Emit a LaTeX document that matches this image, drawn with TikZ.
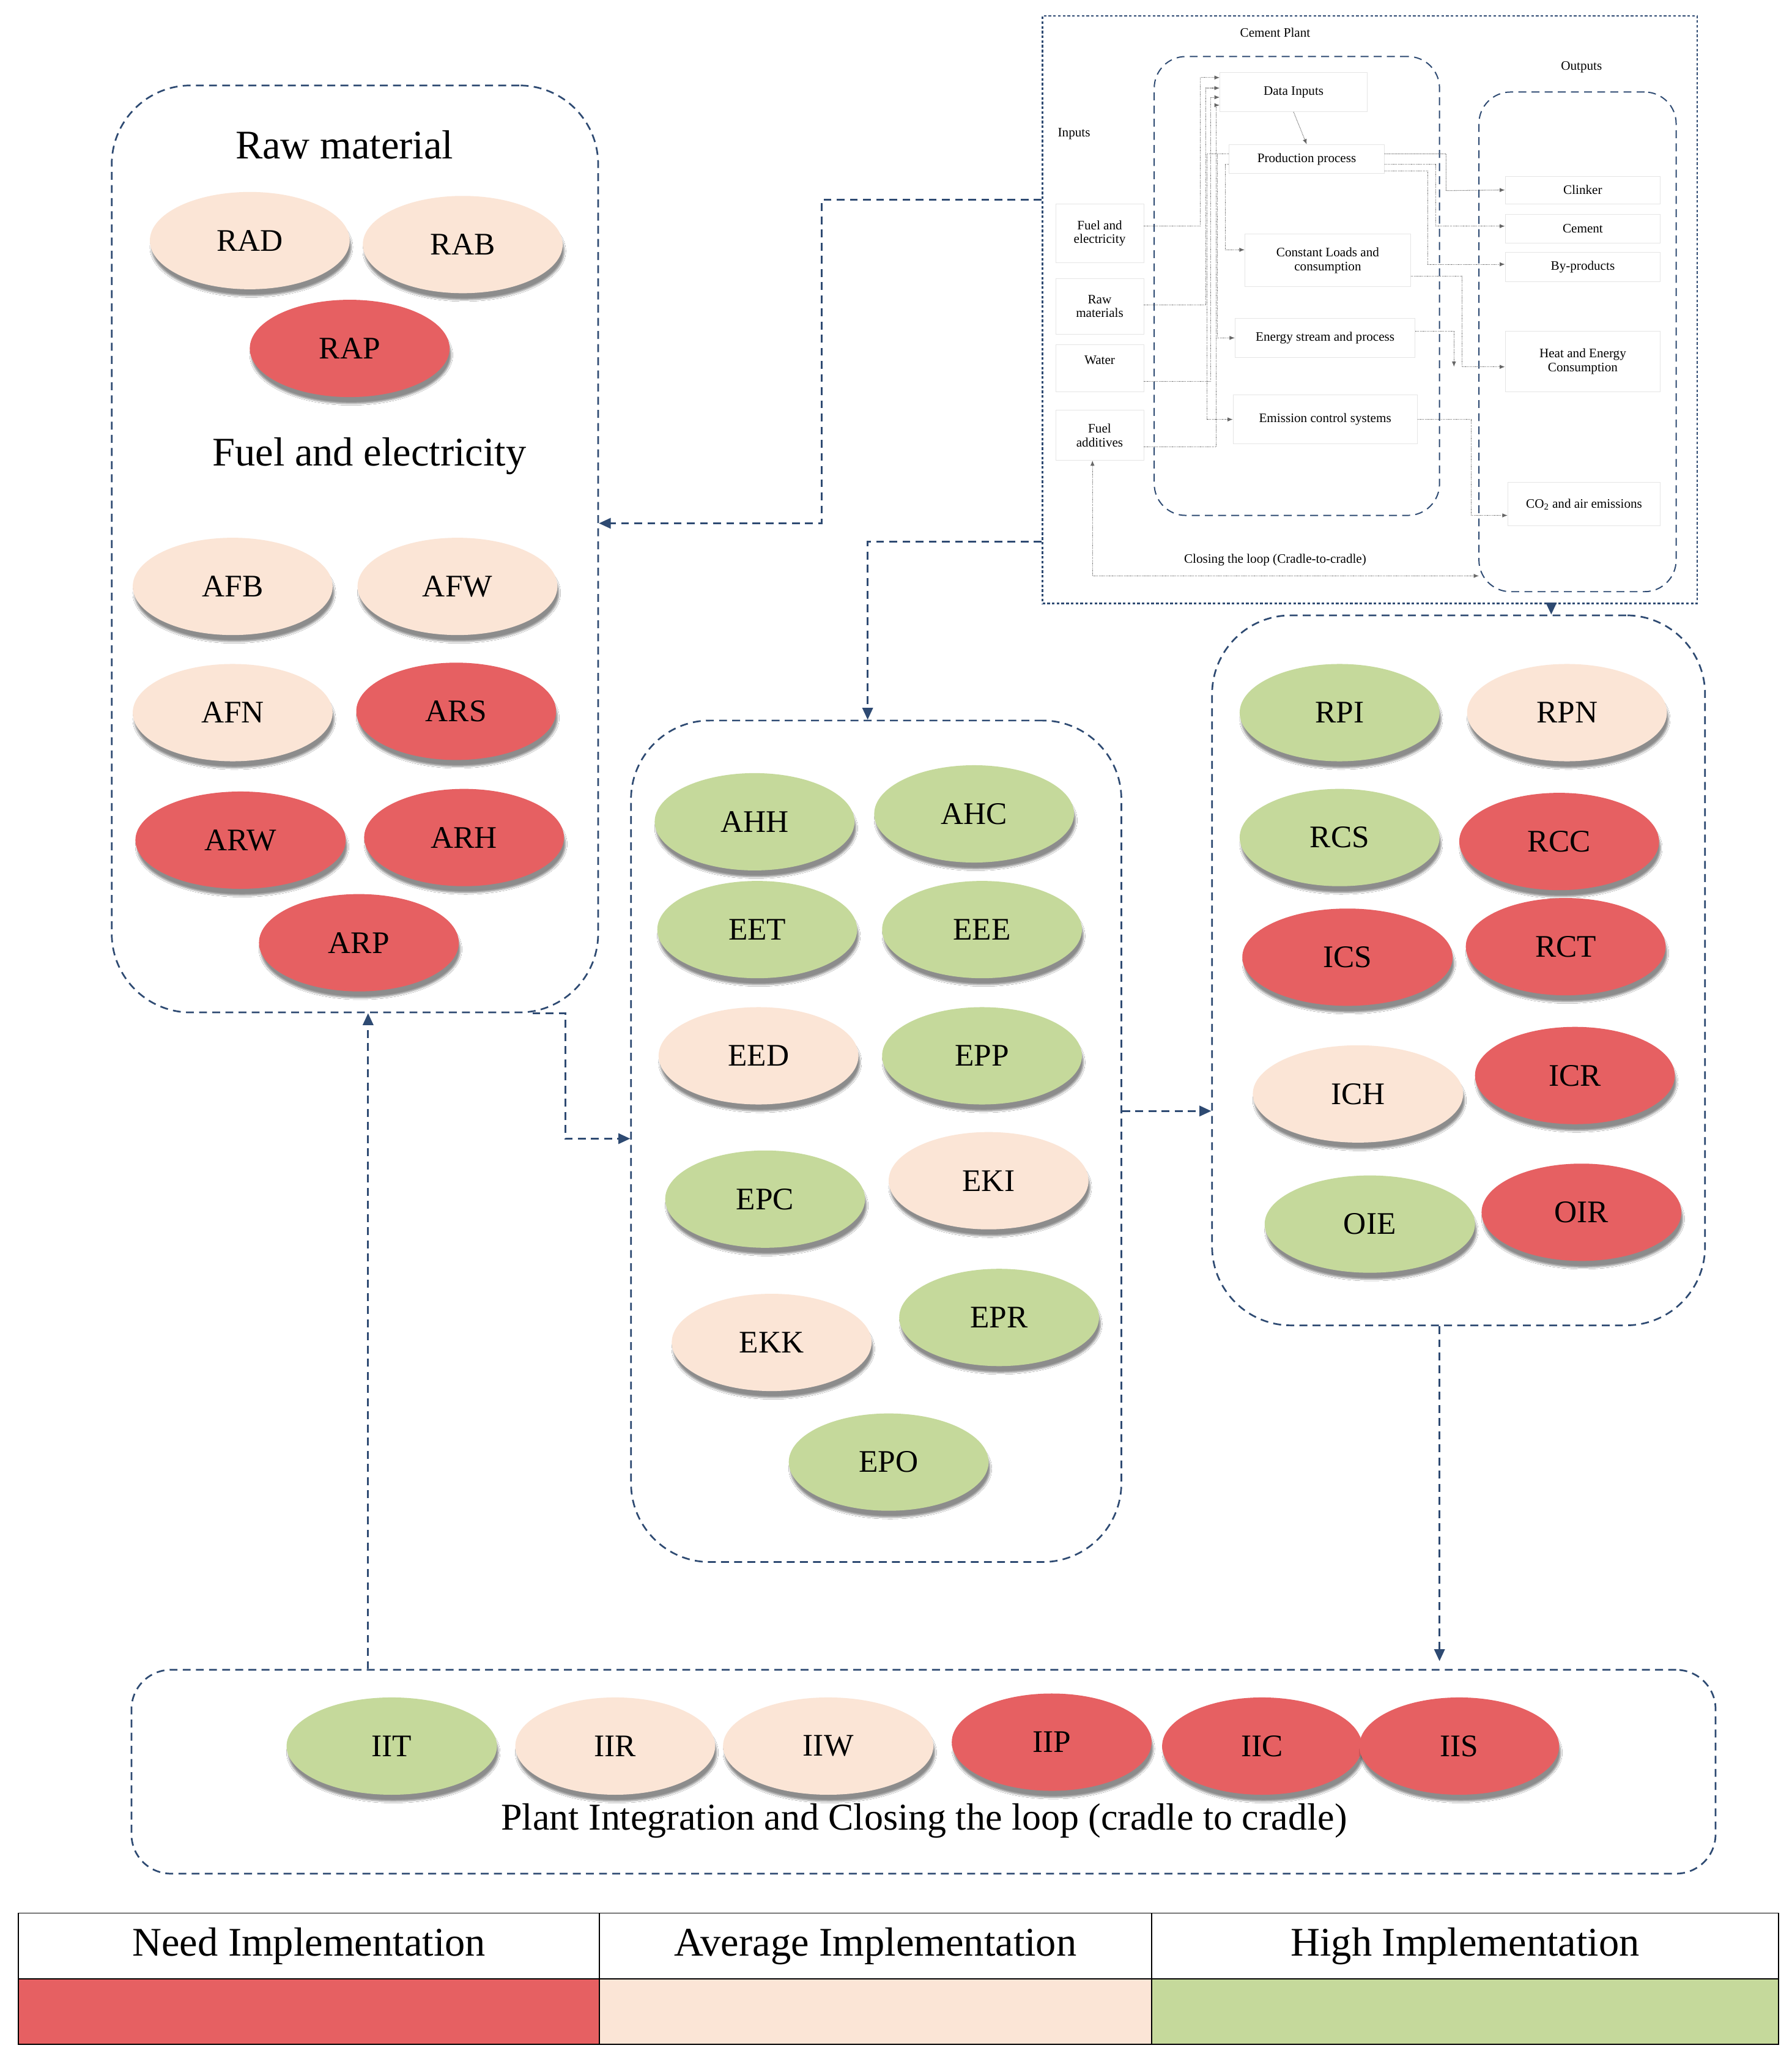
\documentclass[tikz,border=0pt]{standalone}
\usepackage{fontspec}
\setmainfont{Liberation Serif}
\usetikzlibrary{shapes.geometric,shadows.blur,arrows.meta}
\definecolor{needc}{HTML}{E66062}
\definecolor{avgc}{HTML}{FBE5D6}
\definecolor{highc}{HTML}{C5D99B}
\definecolor{dblue}{HTML}{2E4A72}
\tikzset{
 ell/.style={ellipse, minimum width=76mm, minimum height=37mm, inner sep=0pt,
   font=\fontsize{34}{36}\selectfont,
   blur shadow={shadow xshift=0.6mm, shadow yshift=-2.5mm, shadow blur steps=6, shadow opacity=45}},
 R/.style={ell, fill=needc}, A/.style={ell, fill=avgc}, H/.style={ell, fill=highc},
 grp/.style={draw=dblue, line width=1.8pt, dash pattern=on 3mm off 2mm, rounded corners=30mm},
 big/.style={draw=dblue, line width=1.8pt, dash pattern=on 3mm off 2mm, -{Triangle[length=4.5mm,width=4mm]}},
 ttl/.style={font=\fontsize{44}{48}\selectfont},
 sb/.style={draw=black!10, line width=0.6pt, font=\fontsize{14}{15}\selectfont, align=center, inner sep=0pt},
 sd/.style={draw=black!60, line width=0.7pt, dash pattern=on 0.8pt off 0.8pt, -{Latex[length=2mm,width=1.6mm]}},
 ig/.style={draw=dblue, line width=1.3pt, dash pattern=on 3mm off 2mm, rounded corners=12mm},
}
\begin{document}
\begin{tikzpicture}[x=0.5mm,y=-0.5mm]
\useasboundingbox (0,0) rectangle (1363,1566);
\fill[white] (0,0) rectangle (1363,1566);
% group boxes
\node[grp, minimum width=185mm, minimum height=352.5mm] (lbox) at (270,417.5) {};
\node[grp, minimum width=186.5mm, minimum height=320mm] (mbox) at (666.5,868) {};
\node[grp, minimum width=187.5mm, minimum height=270mm] (rbox) at (1109.5,738) {};
\node[grp, rounded corners=15mm, minimum width=602.5mm, minimum height=77.5mm] (bbox) at (702.5,1347.5) {};
% left
\node[ttl] (trm) at (262,110) {Raw material};
\node[A] (RAD) at (190,183) {RAD};
\node[A] (RAB) at (352,186) {RAB};
\node[R] (RAP) at (266,265) {RAP};
\node[ttl] (tfe) at (281,347) {Fuel and electricity};
\node[A] (AFB) at (177,446) {AFB};
\node[A] (AFW) at (348,446) {AFW};
\node[A] (AFN) at (177,542) {AFN};
\node[R] (ARS) at (347,541) {ARS};
\node[R, minimum width=80mm] (ARW) at (183,639) {ARW};
\node[R] (ARH) at (353,637) {ARH};
\node[R] (ARP) at (273,717) {ARP};
% middle
\node[H] (AHH) at (574,625) {AHH};
\node[H] (AHC) at (741,619) {AHC};
\node[H] (EET) at (576,707) {EET};
\node[H] (EEE) at (747,707) {EEE};
\node[A] (EED) at (577,803) {EED};
\node[H] (EPP) at (747,803) {EPP};
\node[H] (EPC) at (582,912) {EPC};
\node[A] (EKI) at (752,898) {EKI};
\node[A] (EKK) at (587,1021) {EKK};
\node[H] (EPR) at (760,1002) {EPR};
\node[H] (EPO) at (676,1112) {EPO};
% right
\node[H] (RPI) at (1019,542) {RPI};
\node[A] (RPN) at (1192,542) {RPN};
\node[H] (RCS) at (1019,637) {RCS};
\node[R] (RCC) at (1186,640) {RCC};
\node[R, minimum width=80mm] (ICS) at (1025,728) {ICS};
\node[R] (RCT) at (1191,720) {RCT};
\node[A, minimum width=80mm] (ICH) at (1033,832) {ICH};
\node[R] (ICR) at (1198,818) {ICR};
\node[H, minimum width=80mm] (OIE) at (1042,931) {OIE};
\node[R] (OIR) at (1203,922) {OIR};
% bottom
\node[H, minimum width=80mm] (IIT) at (298,1328) {IIT};
\node[A] (IIR) at (468,1328) {IIR};
\node[A, minimum width=80mm] (IIW) at (630,1328) {IIW};
\node[R] (IIP) at (800,1325) {IIP};
\node[R] (IIC) at (960,1328) {IIC};
\node[R] (IIS) at (1110,1328) {IIS};
\node[ttl, font=\fontsize{41}{44}\selectfont] (tpi) at (703,1385) {Plant Integration and Closing the loop (cradle to cradle)};
% inset
\node[draw=dblue, line width=1.5pt, dash pattern=on 1mm off 0.8mm, minimum width=249mm, minimum height=223.5mm, inner sep=0pt] (inset) at (1042,235.5) {};
\node[font=\fontsize{14}{15}\selectfont] (tcp) at (970,25) {Cement Plant};
\node[font=\fontsize{14}{15}\selectfont] (tout) at (1203,51) {Outputs};
\node[font=\fontsize{14}{15}\selectfont] (tin) at (817,102) {Inputs};
\node[ig, minimum width=108.5mm, minimum height=174.5mm] (cbox) at (986.5,217.5) {};
\node[ig, minimum width=75mm, minimum height=190mm] (obox) at (1200,260) {};
\node[sb, minimum width=56mm, minimum height=15mm] (di) at (984,70) {Data Inputs};
\node[sb, minimum width=59mm, minimum height=11mm] (pp) at (994,121) {Production process};
\node[sb, minimum width=63mm, minimum height=20mm] (cl) at (1010,198) {Constant Loads and\\consumption};
\node[sb, minimum width=68.5mm, minimum height=15mm] (es) at (1008,257) {Energy stream and process};
\node[sb, minimum width=70mm, minimum height=18.5mm] (ec) at (1008,319) {Emission control systems};
\node[sb, minimum width=33.5mm, minimum height=22.5mm] (ife) at (836.5,177.5) {Fuel and\\electricity};
\node[sb, minimum width=33.5mm, minimum height=21mm] (irm) at (836.5,233) {Raw\\materials};
\node[sb, minimum width=33.5mm, minimum height=18mm, anchor=center] (iw) at (836.5,280) {};
\node[font=\fontsize{14}{15}\selectfont] (iwt) at (836.5,274) {Water};
\node[sb, minimum width=33.5mm, minimum height=19mm] (ifa) at (836.5,331) {Fuel\\additives};
\node[sb, minimum width=59mm, minimum height=10.5mm] (ocl) at (1204,144.5) {Clinker};
\node[sb, minimum width=59mm, minimum height=11mm] (oce) at (1204,174) {Cement};
\node[sb, minimum width=59mm, minimum height=11mm] (obp) at (1204,203) {By-products};
\node[sb, minimum width=59mm, minimum height=23mm] (ohe) at (1204,275) {Heat and Energy\\Consumption};
\node[sb, minimum width=58mm, minimum height=16.5mm] (oco) at (1205,383.5) {CO\textsubscript{2} and air emissions};
\node[font=\fontsize{14}{15}\selectfont] (tcl) at (970,426) {Closing the loop (Cradle-to-cradle)};
% inset connectors
\draw[sd] (ife.east |- 0,172) -| (913,59) -- (di.west |- 0,59);
\draw[sd] (irm.east |- 0,232) -| (917,67) -- (di.west |- 0,67);
\draw[sd] (iw.east |- 0,290) -| (921,74) -- (di.west |- 0,74);
\draw[sd] (ifa.east |- 0,340) -| (925,80) -- (di.west |- 0,80);
\draw[sd] (di.south) -- (pp.north);
\draw[sd] (pp.west |- 0,117) -| (918,319) -- (ec.west |- 0,319);
\draw[sd] (pp.west |- 0,117) -| (926,257) -- (es.west |- 0,257);
\draw[sd] (pp.west |- 0,125) -| (932,190) -- (cl.west |- 0,190);
\draw[sd] (pp.east |- 0,117) -| (1100,145) -- (ocl.west);
\draw[sd] (pp.east |- 0,125) -| (1092,172) -- (oce.west |- 0,172);
\draw[sd] (pp.east |- 0,130) -| (1086,201) -- (obp.west |- 0,201);
\draw[sd] (cl.east |- 0,210) -| (1112,279) -- (ohe.west |- 0,279);
\draw[sd] (es.east |- 0,252) -| (1106,279);
\draw[sd] (ec.east |- 0,319) -| (1119,392) -- (oco.west |- 0,392);
\coordinate (lc) at (831,438);
\draw[sd, {Latex[length=2mm,width=1.6mm]}-{Latex[length=2mm,width=1.6mm]}] (ifa.south -| lc) -- (lc) -- (1125,438);
% big connectors
\draw[big] (inset.west |- 0,152) -| (625,398) -- (lbox.east |- 0,398);
\draw[big] (inset.west |- 0,412) -| (mbox.north -| 660,0);
\draw[big] (inset.south -| 1180,0) -- (rbox.north -| 1180,0);
\draw[big] (lbox.south -| 405,0) -| (430,866) -- (mbox.west |- 0,866);
\draw[big] (mbox.east |- 0,845) -- (rbox.west |- 0,845);
\draw[big] (rbox.south -| 1095,0) -- ([yshift=3mm]bbox.north -| 1095,0);
\draw[big] (bbox.north -| 280,0) -- (lbox.south -| 280,0);
% legend
\node[draw, line width=1.2pt, minimum width=221mm, minimum height=25mm, inner sep=0pt, ttl] (l1) at (235,1480) {Need Implementation};
\node[draw, line width=1.2pt, minimum width=210mm, minimum height=25mm, inner sep=0pt, ttl] (l2) at (666,1480) {Average Implementation};
\node[draw, line width=1.2pt, minimum width=238.5mm, minimum height=25mm, inner sep=0pt, ttl] (l3) at (1114.5,1480) {High Implementation};
\node[draw, line width=1.2pt, fill=needc, minimum width=221mm, minimum height=25mm, inner sep=0pt] (f1) at (235,1530) {};
\node[draw, line width=1.2pt, fill=avgc, minimum width=210mm, minimum height=25mm, inner sep=0pt] (f2) at (666,1530) {};
\node[draw, line width=1.2pt, fill=highc, minimum width=238.5mm, minimum height=25mm, inner sep=0pt] (f3) at (1114.5,1530) {};
\end{tikzpicture}
\end{document}
